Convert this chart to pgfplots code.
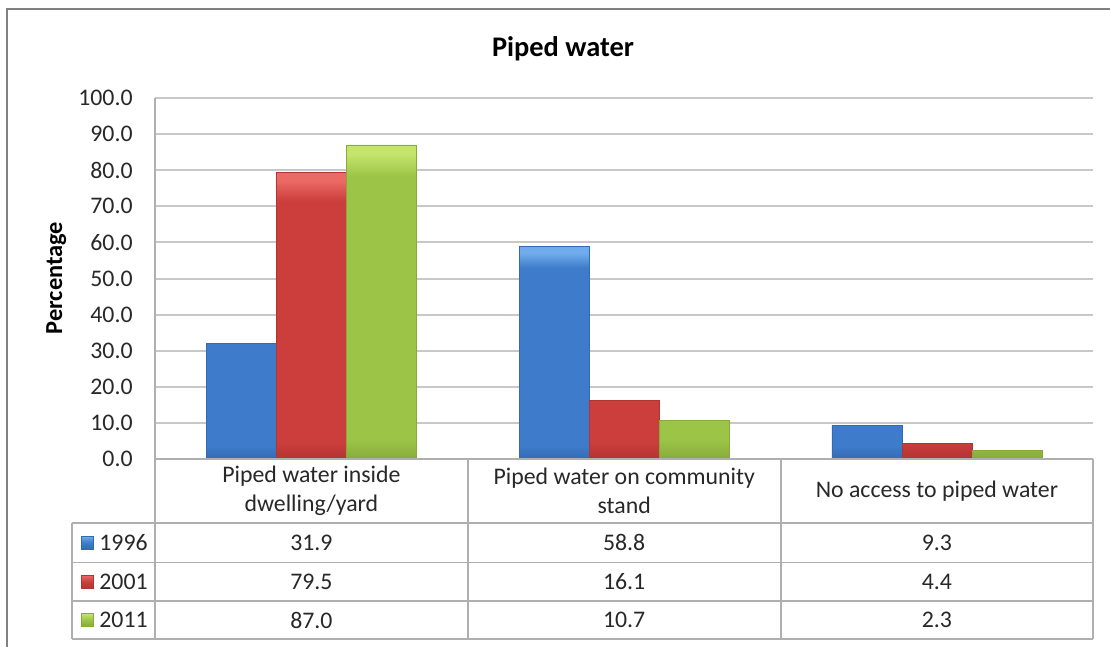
\documentclass[border=0pt]{standalone}
\usepackage{fontspec}
\setmainfont{Carlito}
\usepackage{pgfplots}
\usepackage{pgfplotstable}
\pgfplotsset{compat=1.18}

% bar colours: body, highlight and shadow
\definecolor{blueM}{RGB}{62,123,202}
\definecolor{blueT}{RGB}{112,172,236}
\definecolor{blueB}{RGB}{52,106,180}
\definecolor{redM}{RGB}{203,62,60}
\definecolor{redT}{RGB}{236,106,102}
\definecolor{redB}{RGB}{178,52,50}
\definecolor{grnM}{RGB}{156,196,70}
\definecolor{grnT}{RGB}{196,228,108}
\definecolor{grnB}{RGB}{134,170,60}
\definecolor{gridc}{RGB}{200,200,200}
\definecolor{tablec}{RGB}{175,175,175}
\definecolor{framec}{RGB}{128,128,128}
\definecolor{txt}{RGB}{40,40,40}

% bevelled look: shadow at the foot, flat body, highlight along the top
% (a path shading covers the path with its middle part, 25bp to 75bp)
\pgfdeclareverticalshading{bevelblue}{100bp}{color(0bp)=(blueB); color(25bp)=(blueB); color(28bp)=(blueM); color(70bp)=(blueM); color(73.5bp)=(blueT); color(100bp)=(blueT)}
\pgfdeclareverticalshading{bevelred}{100bp}{color(0bp)=(redB); color(25bp)=(redB); color(28bp)=(redM); color(70bp)=(redM); color(73.5bp)=(redT); color(100bp)=(redT)}
\pgfdeclareverticalshading{bevelgrn}{100bp}{color(0bp)=(grnB); color(25bp)=(grnB); color(28bp)=(grnM); color(70bp)=(grnM); color(73.5bp)=(grnT); color(100bp)=(grnT)}

% share of households by access to piped water (%)
\pgfplotstableread{
cat y1996 y2001 y2011
0   31.9  79.5  87.0
1   58.8  16.1  10.7
2   9.3   4.4   2.3
}\datatbl

\newcommand\cellval[2]{\pgfplotstablegetelem{#1}{#2}\of\datatbl\pgfmathprintnumber[fixed,precision=1,zerofill,assume math mode=true]{\pgfplotsretval}}
\newcommand\bodyfont{\fontsize{11.9}{14.5}\selectfont}

\begin{document}
\begin{tikzpicture}
\begin{scope}[x=0.5pt,y=-0.5pt]
  \useasboundingbox (0,0) rectangle (1110,647);
  \fill[white] (0,0) rectangle (1110,647);
  \draw[framec, line width=1.1pt] (7,647) -- (7,9) -- (1110,9);
  \node[anchor=base, font=\fontsize{14.2}{17}\selectfont\bfseries, text=black] at (563,56.5) {Piped water};
  \node[rotate=90, anchor=base, font=\fontsize{12.2}{14}\selectfont\bfseries, text=black] at (62,278) {Percentage};
\end{scope}

\begin{axis}[
  at={(77.5pt,-229.5pt)}, anchor=south west,
  scale only axis, width=469.2pt, height=180.5pt,
  ybar=0pt, bar width=0.2238,
  xmin=-0.5, xmax=2.5, ymin=0, ymax=100,
  xtick=\empty, ytick={0,10,20,30,40,50,60,70,80,90,100},
  ymajorgrids, grid style={gridc, line width=1pt},
  axis line style={draw=none},
  major tick length=0pt,
  yticklabel style={anchor=east, inner sep=0pt, xshift=-11pt, font=\bodyfont, text=txt,
    /pgf/number format/fixed, /pgf/number format/precision=1,
    /pgf/number format/zerofill, /pgf/number format/assume math mode=true},
]
\addplot[draw=blueB, line width=0.4pt, shade, shading=bevelblue]
  table[x=cat, y=y1996]{\datatbl};
\addplot[draw=redB, line width=0.4pt, shade, shading=bevelred]
  table[x=cat, y=y2001]{\datatbl};
\addplot[draw=grnB, line width=0.4pt, shade, shading=bevelgrn]
  table[x=cat, y=y2011]{\datatbl};
\end{axis}

% data table beneath the plot
\begin{scope}[x=0.5pt,y=-0.5pt]
  \draw[tablec, line width=0.9pt]
    (155,98) -- (155,639)
    (155,459) -- (1093.3,459)
    (72,523) -- (1093.3,523)
    (72,562.5) -- (1093.3,562.5)
    (72,600.8) -- (1093.3,600.8)
    (72,639) -- (1093.3,639)
    (72,523) -- (72,639)
    (467.8,459) -- (467.8,639)
    (780.6,459) -- (780.6,639)
    (1093.3,459) -- (1093.3,639);
  \begin{scope}[every node/.style={font=\bodyfont, text=txt, align=center}]
    \node at (311.4,491) {Piped water inside\\dwelling/yard};
    \node at (624.2,491) {Piped water on community\\stand};
    \node at (936.9,491) {No access to piped water};
    \foreach \c/\x in {0/311.4,1/624.2,2/936.9}{
      \node at (\x,542.7) {\cellval{\c}{y1996}};
      \node at (\x,581.6) {\cellval{\c}{y2001}};
      \node at (\x,620) {\cellval{\c}{y2011}};
    }
    \foreach \y/\lab/\cc in {542.7/1996/blue,581.6/2001/red,620/2011/grn}{
      \shade[top color=\cc T, bottom color=\cc B, middle color=\cc M] (81,\y-6.5) rectangle (93,\y+6.5);
      \draw[\cc B, line width=0.3pt] (81,\y-6.5) rectangle (93,\y+6.5);
      \node[anchor=west, inner sep=0pt] at (99,\y) {\lab};
    }
  \end{scope}
\end{scope}
\end{tikzpicture}
\end{document}
